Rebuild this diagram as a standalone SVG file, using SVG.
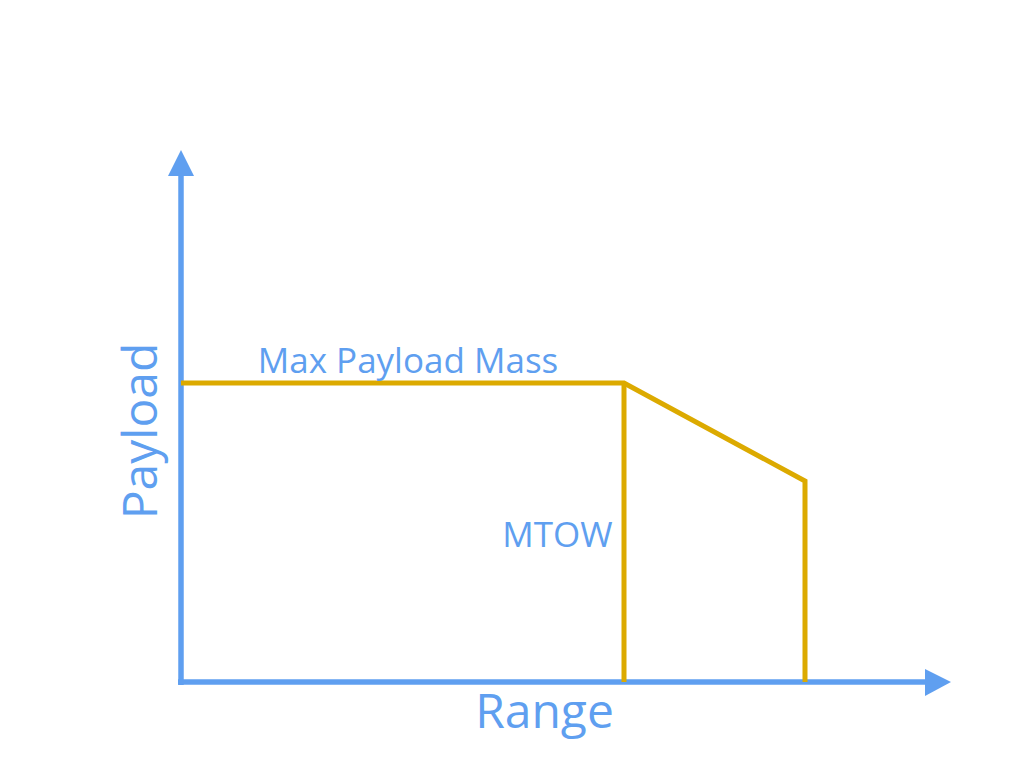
<svg xmlns="http://www.w3.org/2000/svg" width="1024" height="768" viewBox="0 0 1024 768">
<style>
.ax{stroke:#5f9ff0;stroke-width:5.5;fill:none}
.ah{fill:#5f9ff0}
.cv{stroke:#dcaa00;stroke-width:5;fill:none;stroke-linejoin:miter}
.t{font-family:"Open Sans","Noto Sans",sans-serif;fill:#5f9ff0;text-anchor:middle}
</style>
<rect width="1024" height="768" fill="#fff"/>
<g id="axes">
<line class="ax" x1="181" y1="172" x2="181" y2="685"/>
<polygon class="ah" points="181,150 194,176 168,176"/>
<line class="ax" x1="178" y1="682" x2="928" y2="682"/>
<polygon class="ah" points="951,682 925,669 925,696"/>
</g>
<g id="curve">
<polyline class="cv" points="181,383 624,383 805,481 805,682"/>
<line class="cv" x1="624" y1="383" x2="624" y2="682"/>
</g>
<g id="labels">
<text class="t" x="408" y="373" font-size="35">Max Payload Mass</text>
<text class="t" x="557.5" y="547" font-size="35">MTOW</text>
<text class="t" x="544.5" y="728" font-size="48">Range</text>
<text class="t" transform="translate(157,431) rotate(-90)" font-size="48">Payload</text>
</g>
</svg>
